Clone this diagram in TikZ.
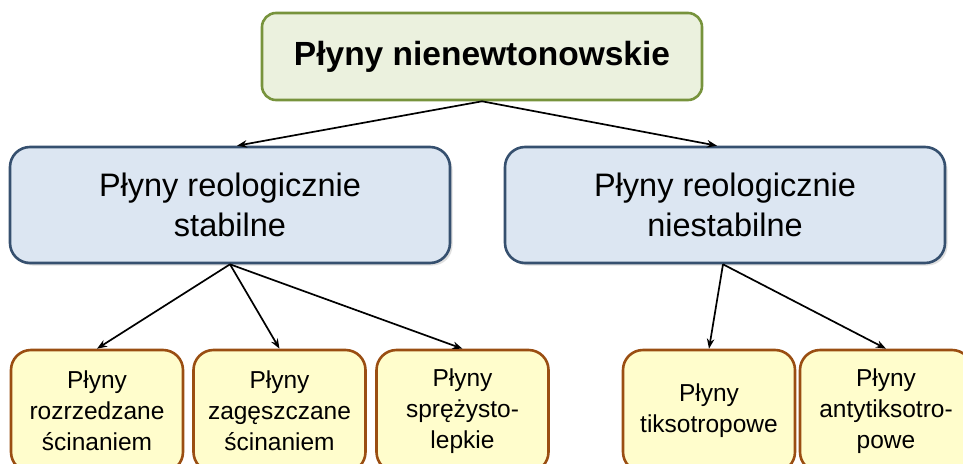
\documentclass[tikz,border=0pt]{standalone}
\usepackage{fontspec}
\setmainfont{Liberation Sans}
\usetikzlibrary{arrows.meta,shadows}
\definecolor{topfill}{HTML}{EBF1DE}
\definecolor{topdraw}{HTML}{77933C}
\definecolor{midfill}{HTML}{DCE6F2}
\definecolor{middraw}{HTML}{36506F}
\definecolor{botfill}{HTML}{FFFDCC}
\definecolor{botdraw}{HTML}{9A4E12}
\tikzset{
  topbox/.style={draw=topdraw, fill=topfill, line width=2.6pt, rounded corners=14pt,
    minimum width=440pt, minimum height=87pt, inner sep=0pt, align=center,
    font=\fontsize{33.5}{38}\selectfont\bfseries},
  midbox/.style={draw=middraw, fill=midfill, line width=2.6pt, rounded corners=20pt,
    minimum width=440pt, minimum height=116pt, inner sep=0pt, align=center,
    font=\fontsize{32.5}{40}\selectfont,
    drop shadow={shadow xshift=2.5pt, shadow yshift=-2.5pt, opacity=0.25}},
  botbox/.style={draw=botdraw, fill=botfill, line width=2.6pt, rounded corners=20pt,
    minimum width=172pt, minimum height=122pt, inner sep=0pt, align=center,
    font=\fontsize{24.5}{31}\selectfont},
  conn/.style={line width=1.7pt, -{Stealth[length=10pt,width=7.5pt]}}
}
\begin{document}
\begin{tikzpicture}[x=1pt,y=-1pt]
\useasboundingbox (0,0) rectangle (963,463);
\clip (0,0) rectangle (963,463);
\node[topbox] (top) at (482,56.5) {Płyny nienewtonowskie};
\node[midbox] (ml) at (230,205) {Płyny reologicznie\\stabilne};
\node[midbox] (mr) at (725,205) {Płyny reologicznie\\niestabilne};
\node[botbox] (b1) at (97,411) {Płyny\\rozrzedzane\\ścinaniem};
\node[botbox] (b2) at (279.5,411) {Płyny\\zagęszczane\\ścinaniem};
\node[botbox] (b3) at (462.5,411) {Płyny\\sprężysto-\\lepkie};
\node[botbox] (b4) at (709,411) {Płyny\\tiksotropowe};
\node[botbox] (b5) at (886,411) {Płyny\\antytiksotro-\\powe};
\draw[conn] (top.south) -- ([xshift=7pt]ml.north);
\draw[conn] (top.south) -- ([xshift=-8pt]mr.north);
\draw[conn] (ml.south) -- (b1.north);
\draw[conn] (ml.south) -- (b2.north);
\draw[conn] (ml.south) -- (b3.north);
\draw[conn] ([xshift=-2pt]mr.south) -- (b4.north);
\draw[conn] ([xshift=-2pt]mr.south) -- (b5.north);
\end{tikzpicture}
\end{document}
